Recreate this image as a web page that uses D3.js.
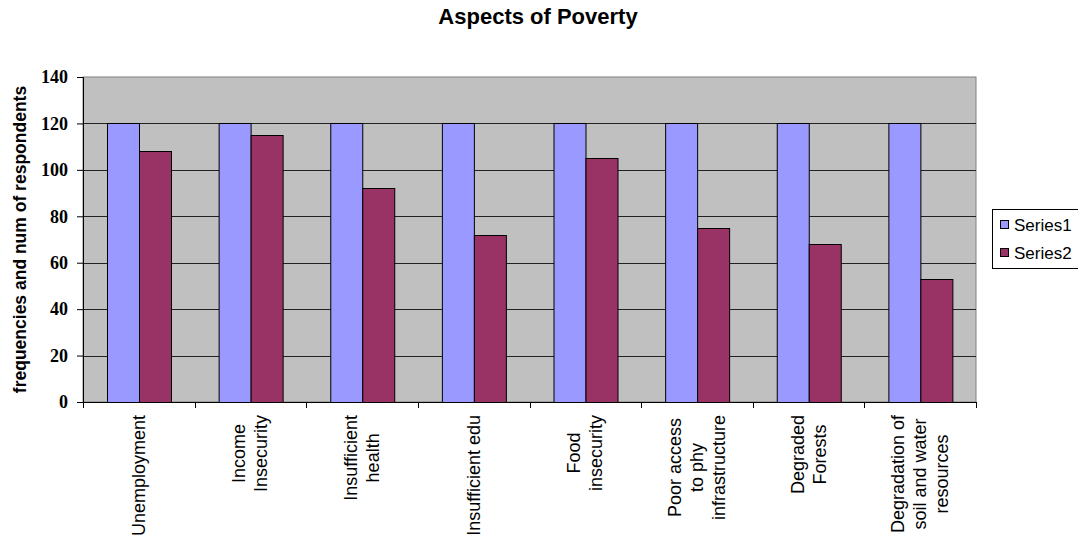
<!DOCTYPE html>
<html>
<head>
<meta charset="utf-8">
<script src="https://cdn.jsdelivr.net/npm/d3@7"></script>
<style>
  body { margin: 0; background: #fff; }
  svg { display: block; font-family: "Liberation Sans", Arial, sans-serif; }
</style>
</head>
<body>
<svg id="chart"></svg>
<script>
// chart data
const categories = [
  ["Unemployment"],
  ["Income", "Insecurity"],
  ["Insufficient", "health"],
  ["Insufficient edu"],
  ["Food", "insecurity"],
  ["Poor access", "to phy", "infrastructure"],
  ["Degraded", "Forests"],
  ["Degradation of", "soil and water", "resources"]
];
const series1 = [120, 120, 120, 120, 120, 120, 120, 120];
const series2 = [108, 115, 92, 72, 105, 75, 68, 53];
const seriesNames = ["Series1", "Series2"];
const yTicks = [0, 20, 40, 60, 80, 100, 120, 140];

const width = 1078, height = 539;
const margin = { top: 77, right: 102, bottom: 137, left: 83 };
const colors = ["#9999ff", "#993366"];

const svg = d3.select("#chart").attr("width", width).attr("height", height);

const innerW = width - margin.left - margin.right;
const innerH = height - margin.top - margin.bottom;

const chart = svg.append("g")
  .attr("transform", `translate(${margin.left},${margin.top})`);

const x = d3.scaleBand()
  .domain(d3.range(categories.length))
  .range([0, innerW]);

// two bars per category, gap of 1.5 bar widths split on both sides
const xInner = d3.scaleBand()
  .domain([0, 1])
  .range([0, x.bandwidth()])
  .paddingOuter(0.75)
  .paddingInner(0);

const y = d3.scaleLinear().domain([0, 140]).range([innerH, 0]);

// plot area
chart.append("rect")
  .attr("width", innerW).attr("height", innerH)
  .attr("fill", "#c0c0c0")
  .attr("stroke", "#808080").attr("stroke-width", 1);

// gridlines
chart.selectAll(".grid")
  .data(yTicks.filter(d => d > 0 && d < 140))
  .join("line")
  .attr("class", "grid")
  .attr("x1", 0).attr("x2", innerW)
  .attr("y1", d => Math.round(y(d)) + 0.5).attr("y2", d => Math.round(y(d)) + 0.5)
  .attr("stroke", "#222").attr("stroke-width", 1);

// bars
const groups = chart.selectAll(".cat")
  .data(categories.map((c, i) => i))
  .join("g")
  .attr("class", "cat")
  .attr("transform", i => `translate(${x(i)},0)`);

groups.selectAll("rect")
  .data(i => [series1[i], series2[i]])
  .join("rect")
  .attr("x", (d, j) => Math.round(xInner(j)) + 0.5)
  .attr("y", d => Math.round(y(d)) + 0.5)
  .attr("width", Math.round(xInner.bandwidth()))
  .attr("height", d => Math.round(y(0) - y(d)))
  .attr("fill", (d, j) => colors[j])
  .attr("stroke", "#000").attr("stroke-width", 1);

// y axis
const yAxis = chart.append("g")
  .call(d3.axisLeft(y).tickValues(yTicks).tickSize(6).tickPadding(9));
yAxis.select(".domain").attr("stroke", "#000");
yAxis.selectAll("text")
  .attr("font-family", "'Liberation Serif', 'Times New Roman', serif")
  .attr("font-weight", "bold")
  .attr("font-size", 18)
  .attr("fill", "#000");

// x axis
const xAxis = chart.append("g")
  .attr("transform", `translate(0,${innerH})`);
xAxis.append("line")
  .attr("x1", 0).attr("x2", innerW)
  .attr("y1", 0.5).attr("y2", 0.5)
  .attr("stroke", "#000");
xAxis.selectAll(".tick")
  .data(d3.range(categories.length + 1))
  .join("line")
  .attr("class", "tick")
  .attr("x1", i => Math.round(i * x.step()) + 0.5)
  .attr("x2", i => Math.round(i * x.step()) + 0.5)
  .attr("y1", 0).attr("y2", 6)
  .attr("stroke", "#000");

// x labels, rotated, multi-line
const lineH = 22;
categories.forEach((lines, i) => {
  const cx = margin.left + x(i) + x.bandwidth() / 2;
  const g = svg.append("g")
    .attr("transform", `translate(${cx},415) rotate(-90)`);
  const texts = g.selectAll("text")
    .data(lines)
    .join("text")
    .attr("y", (d, k) => (k - (lines.length - 1) / 2) * lineH)
    .attr("dominant-baseline", "central")
    .attr("text-anchor", "middle")
    .attr("font-size", 18)
    .attr("fill", "#000")
    .text(d => d);
  const L = d3.max(texts.nodes(), n => n.getComputedTextLength());
  texts.attr("x", -L / 2);
});

// y axis title
svg.append("text")
  .attr("transform", `translate(20,${margin.top + innerH / 2}) rotate(-90)`)
  .attr("text-anchor", "middle")
  .attr("dominant-baseline", "central")
  .attr("font-size", 17.5)
  .attr("font-weight", "bold")
  .text("frequencies and num of respondents");

// title
svg.append("text")
  .attr("x", 538).attr("y", 24)
  .attr("text-anchor", "middle")
  .attr("font-size", 22)
  .attr("font-weight", "bold")
  .text("Aspects of Poverty");

// legend
const legend = svg.append("g").attr("transform", "translate(992,209)");
legend.append("rect")
  .attr("x", 0.5).attr("y", 0.5)
  .attr("width", 90).attr("height", 59)
  .attr("fill", "#fff").attr("stroke", "#000");
seriesNames.forEach((s, j) => {
  const cy = 16 + j * 28;
  legend.append("rect")
    .attr("x", 8.5).attr("y", cy - 4.5)
    .attr("width", 8).attr("height", 8)
    .attr("fill", colors[j]).attr("stroke", "#000");
  legend.append("text")
    .attr("x", 22).attr("y", cy)
    .attr("dominant-baseline", "central")
    .attr("font-size", 17)
    .text(s);
});
</script>
</body>
</html>
